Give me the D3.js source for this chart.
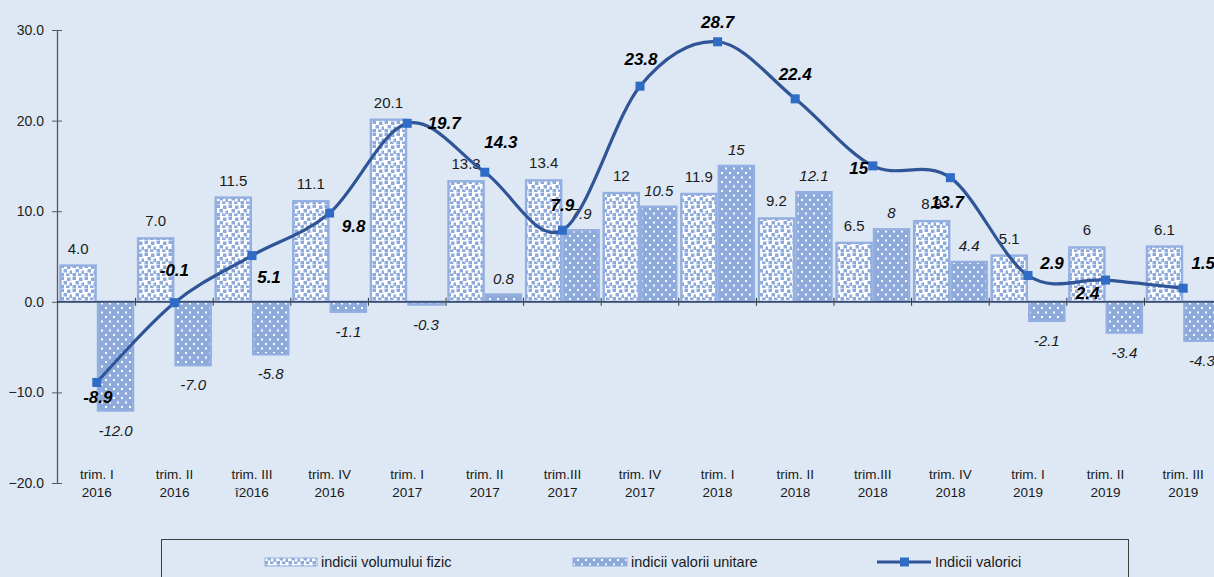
<!DOCTYPE html>
<html>
<head>
<meta charset="utf-8">
<script src="https://cdn.jsdelivr.net/npm/d3@7.9.0/dist/d3.min.js"></script>
<style>
  html, body { margin: 0; padding: 0; background: #dde8f4; }
  svg { display: block; font-family: "Liberation Sans", Arial, sans-serif; }
</style>
</head>
<body>
<svg id="chart" width="1214" height="577"></svg>
<script>
// --- data ---
const quarters = ['trim. I', 'trim. II', 'trim. III', 'trim. IV', 'trim. I', 'trim. II', 'trim.III',
  'trim. IV', 'trim. I', 'trim. II', 'trim.III', 'trim. IV', 'trim. I', 'trim. II', 'trim. III'];
const years = ['2016', '2016', 'î2016', '2016', '2017', '2017', '2017',
  '2017', '2018', '2018', '2018', '2018', '2019', '2019', '2019'];

const volume = [4.0, 7.0, 11.5, 11.1, 20.1, 13.3, 13.4, 12, 11.9, 9.2, 6.5, 8.9, 5.1, 6, 6.1];
const volumeText = ['4.0', '7.0', '11.5', '11.1', '20.1', '13.3', '13.4', '12', '11.9', '9.2', '6.5', '8.9', '5.1', '6', '6.1'];

const unitValue = [-12.0, -7.0, -5.8, -1.1, -0.3, 0.8, 7.9, 10.5, 15, 12.1, 8, 4.4, -2.1, -3.4, -4.3];
const unitText = ['-12.0', '-7.0', '-5.8', '-1.1', '-0.3', '0.8', '7.9', '10.5', '15', '12.1', '8', '4.4', '-2.1', '-3.4', '-4.3'];

const valueIdx = [-8.9, -0.1, 5.1, 9.8, 19.7, 14.3, 7.9, 23.8, 28.7, 22.4, 15, 13.7, 2.9, 2.4, 1.5];
const valueText = ['-8.9', '-0.1', '5.1', '9.8', '19.7', '14.3', '7.9', '23.8', '28.7', '22.4', '15', '13.7', '2.9', '2.4', '1.5'];

const yTicks = [-20, -10, 0, 10, 20, 30];
const legendNames = ['indicii volumului fizic', 'indicii valorii unitare', 'Indicii valorici'];

// label nudges for the line's data labels (layout only)
const valueLabelNudge = [[1, 15], [0, -33], [17, 21], [24, 13], [37, 0], [16, -30], [0, -25],
  [1, -27], [0, -20], [0, -25], [-14, 2], [-3, 24], [24, -12], [-18, 13], [20, -25]];

// --- setup ---
const barColor = '#8eaadb';
const lineColor = '#2f5597';
const markerColor = '#2e6cc6';

const svg = d3.select('#chart');
const idx = d3.range(quarters.length);

const x0 = d3.scaleBand().domain(idx).range([58, 1222]);
const x1 = d3.scaleBand().domain(['vol', 'unit']).range([0, x0.bandwidth()]).paddingOuter(0.035);
const y = d3.scaleLinear().domain([-20, 30]).range([483, 30]);

// patterns
const defs = svg.append('defs');
const confetti = defs.append('pattern').attr('id', 'confetti')
  .attr('patternUnits', 'userSpaceOnUse').attr('width', 12).attr('height', 12);
confetti.append('rect').attr('width', 12).attr('height', 12).attr('fill', '#fff');
[[0.5, 0.5], [7, 1.5], [3.5, 5], [9.5, 6.5], [0.5, 9], [6, 9.5]].forEach(([a, b]) => {
  confetti.append('rect').attr('x', a).attr('y', b).attr('width', 3.5).attr('height', 3.5).attr('fill', barColor);
});
const dots = defs.append('pattern').attr('id', 'dots')
  .attr('patternUnits', 'userSpaceOnUse').attr('width', 8).attr('height', 9);
dots.append('rect').attr('width', 8).attr('height', 9).attr('fill', barColor);
[[1, 1], [5, 5.5]].forEach(([a, b]) => {
  dots.append('rect').attr('x', a).attr('y', b).attr('width', 2).attr('height', 2).attr('fill', '#fff');
});

// y axis
const yAxis = svg.append('g').attr('transform', 'translate(57,0)')
  .call(d3.axisLeft(y).tickValues(yTicks).tickFormat(d3.format('.1f')).tickSizeInner(5).tickSizeOuter(0).tickPadding(8));
yAxis.select('.domain').attr('stroke', '#595959').attr('stroke-width', 1.3);
yAxis.selectAll('.tick line').attr('x1', 5).attr('stroke', '#595959');
yAxis.selectAll('.tick text').attr('font-size', 14).attr('fill', '#222').attr('font-family', 'Liberation Sans, Arial');

// bars
const bars = svg.append('g');
bars.selectAll('rect.vol').data(idx).join('rect')
  .attr('class', 'vol')
  .attr('x', i => x0(i) + x1('vol') + 1.2)
  .attr('width', x1.bandwidth() - 2.4)
  .attr('y', i => y(Math.max(0, volume[i])))
  .attr('height', i => Math.abs(y(volume[i]) - y(0)))
  .attr('fill', 'url(#confetti)')
  .attr('stroke', '#93aee0').attr('stroke-width', 2.4);
bars.selectAll('rect.unit').data(idx).join('rect')
  .attr('class', 'unit')
  .attr('x', i => x0(i) + x1('unit') + 1.2)
  .attr('width', x1.bandwidth() - 2.4)
  .attr('y', i => y(Math.max(0, unitValue[i])))
  .attr('height', i => Math.abs(y(unitValue[i]) - y(0)))
  .attr('fill', 'url(#dots)')
  .attr('stroke', '#93aee0').attr('stroke-width', 2.4);

// x axis line + ticks
const xa = svg.append('g');
xa.append('line').attr('x1', 57).attr('x2', 1214).attr('y1', y(0)).attr('y2', y(0))
  .attr('stroke', '#1c2a44').attr('stroke-width', 1.3);
xa.selectAll('line.tk').data(idx.slice(1)).join('line').attr('class', 'tk')
  .attr('x1', i => x0(i)).attr('x2', i => x0(i))
  .attr('y1', y(0) - 4).attr('y2', y(0) + 4)
  .attr('stroke', '#333').attr('stroke-width', 1);

// category labels
const cat = svg.append('g').attr('font-size', 13.5).attr('fill', '#1a1a1a').attr('text-anchor', 'middle');
cat.selectAll('text.q').data(idx).join('text').attr('class', 'q')
  .attr('x', i => x0(i) + x0.bandwidth() / 2).attr('y', 479).text(i => quarters[i]);
cat.selectAll('text.yr').data(idx).join('text').attr('class', 'yr')
  .attr('x', i => x0(i) + x0.bandwidth() / 2).attr('y', 497).text(i => years[i]);

// bar labels
const lbl = svg.append('g').attr('font-size', 15).attr('text-anchor', 'middle').attr('fill', '#1a1a1a');
lbl.selectAll('text.vl').data(idx).join('text').attr('class', 'vl')
  .attr('x', i => x0(i) + x1('vol') + x1.bandwidth() / 2)
  .attr('y', i => volume[i] >= 0 ? y(volume[i]) - 12 : y(volume[i]) + 24)
  .text(i => volumeText[i]);
lbl.selectAll('text.ul').data(idx).join('text').attr('class', 'ul')
  .attr('font-style', 'italic')
  .attr('x', i => x0(i) + x1('unit') + x1.bandwidth() / 2)
  .attr('y', i => unitValue[i] >= 0 ? y(unitValue[i]) - 11 : y(unitValue[i]) + 25)
  .text(i => unitText[i]);

// line
const cx = i => x0(i) + x0.bandwidth() / 2;
const line = d3.line().x(i => cx(i)).y(i => y(valueIdx[i])).curve(d3.curveCardinal.tension(0));
svg.append('path').datum(idx).attr('d', line)
  .attr('fill', 'none').attr('stroke', lineColor).attr('stroke-width', 3.2);
svg.append('g').selectAll('rect').data(idx).join('rect')
  .attr('x', i => cx(i) - 4.5).attr('y', i => y(valueIdx[i]) - 4.5)
  .attr('width', 9).attr('height', 9).attr('fill', markerColor);

svg.append('g').attr('font-size', 17).attr('font-weight', 'bold').attr('font-style', 'italic')
  .attr('text-anchor', 'middle').attr('fill', '#000')
  .selectAll('text').data(idx).join('text')
  .attr('x', i => cx(i) + valueLabelNudge[i][0])
  .attr('y', i => y(valueIdx[i]) + valueLabelNudge[i][1])
  .attr('dy', '0.35em')
  .text(i => valueText[i]);

// legend
const lg = svg.append('g');
lg.append('rect').attr('x', 161.5).attr('y', 539.5).attr('width', 967).attr('height', 60)
  .attr('fill', 'none').attr('stroke', '#404040').attr('stroke-width', 1);
const lgX = [265, 573, 877];
lg.append('rect').attr('x', lgX[0]).attr('y', 558).attr('width', 52).attr('height', 8).attr('fill', 'url(#confetti)')
  .attr('stroke', '#93aee0').attr('stroke-width', 1);
lg.append('rect').attr('x', lgX[1]).attr('y', 558).attr('width', 54).attr('height', 8).attr('fill', 'url(#dots)')
  .attr('stroke', '#93aee0').attr('stroke-width', 1);
lg.append('line').attr('x1', lgX[2]).attr('x2', lgX[2] + 54).attr('y1', 562).attr('y2', 562)
  .attr('stroke', lineColor).attr('stroke-width', 3.2);
lg.append('rect').attr('x', lgX[2] + 23).attr('y', 557.5).attr('width', 9).attr('height', 9).attr('fill', markerColor);
lg.selectAll('text').data(legendNames).join('text')
  .attr('x', (d, i) => lgX[i] + (i === 0 ? 56 : 58)).attr('y', 567)
  .attr('font-size', 14.5).attr('fill', '#1a1a1a').text(d => d);
</script>
</body>
</html>
